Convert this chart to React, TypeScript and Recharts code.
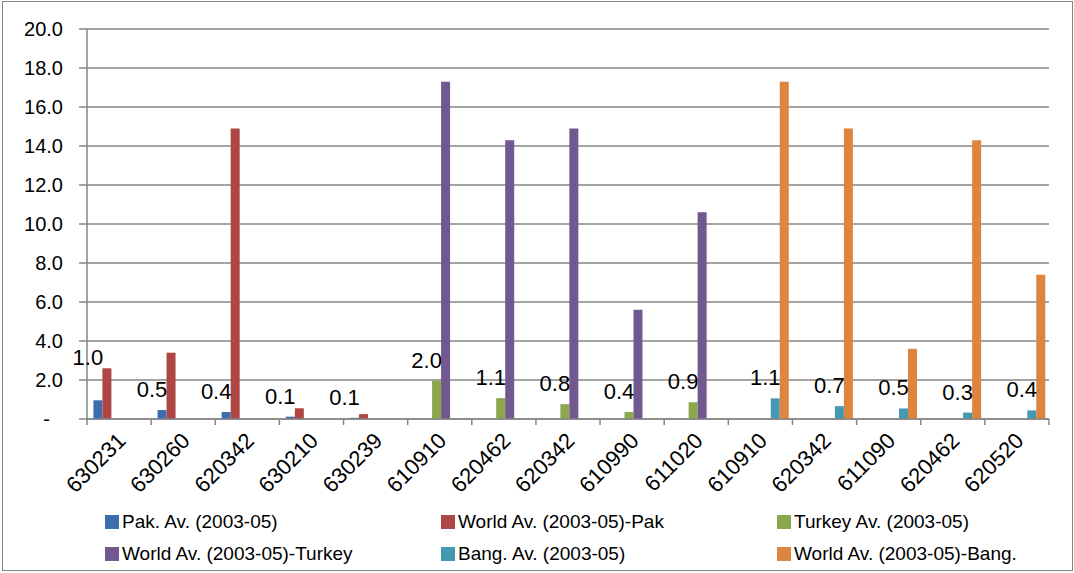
import React from 'react';
import { BarChart, Bar, XAxis, YAxis, CartesianGrid, LabelList, Legend } from 'recharts';

const categories = ['630231', '630260', '620342', '630210', '630239', '610910', '620462', '620342', '610990', '611020', '610910', '620342', '611090', '620462', '620520'];

const pakAv = [0.96, 0.46, 0.36, 0.12, 0.06, null, null, null, null, null, null, null, null, null, null];
const worldPak = [2.6, 3.4, 14.9, 0.55, 0.25, null, null, null, null, null, null, null, null, null, null];
const turkeyAv = [null, null, null, null, null, 1.97, 1.07, 0.76, 0.36, 0.86, null, null, null, null, null];
const worldTurkey = [null, null, null, null, null, 17.3, 14.3, 14.9, 5.6, 10.6, null, null, null, null, null];
const bangAv = [null, null, null, null, null, null, null, null, null, null, 1.06, 0.66, 0.54, 0.33, 0.44];
const worldBang = [null, null, null, null, null, null, null, null, null, null, 17.3, 14.9, 3.6, 14.3, 7.4];

const yTicks = [0, 2, 4, 6, 8, 10, 12, 14, 16, 18, 20];

const series = [
  { key: 'pak', name: 'Pak. Av. (2003-05)', color: '#3e6dad', values: pakAv, labelled: true },
  { key: 'wpak', name: 'World Av. (2003-05)-Pak', color: '#ae4646', values: worldPak, labelled: false },
  { key: 'tur', name: 'Turkey Av. (2003-05)', color: '#8ba84e', values: turkeyAv, labelled: true },
  { key: 'wtur', name: 'World Av. (2003-05)-Turkey', color: '#71588f', values: worldTurkey, labelled: false },
  { key: 'bang', name: 'Bang. Av. (2003-05)', color: '#4299b1', values: bangAv, labelled: true },
  { key: 'wbang', name: 'World Av. (2003-05)-Bang.', color: '#dd843f', values: worldBang, labelled: false },
];

const data = categories.map((c, i) => {
  const row: any = { name: c };
  series.forEach((s) => { row[s.key] = s.values[i]; });
  return row;
});

const FONT = '"Liberation Sans", Arial, sans-serif';
const GREY = '#868686';

const XTick = (props: any) => {
  const { x, y, payload, index, visibleTicksCount } = props;
  const half = payload.offset ?? 0;
  const px = x + 8;
  const py = y + 17;
  return (
    <g>
      <line x1={x - half} x2={x - half} y1={y - 6} y2={y} stroke={GREY} strokeWidth={1.5} />
      {index === visibleTicksCount - 1 && (
        <line x1={x + half} x2={x + half} y1={y - 6} y2={y} stroke={GREY} strokeWidth={1.5} />
      )}
      <text x={px} y={py} transform={`rotate(-45, ${px}, ${py})`} textAnchor="end" fontSize={22} fontFamily={FONT} fill="#000">
        {payload.value}
      </text>
    </g>
  );
};

const YTick = (props: any) => {
  const { x, y, payload } = props;
  const zero = payload.value === 0;
  return (
    <text x={zero ? x - 13 : x} y={y} dy={7} textAnchor="end" fontSize={20} fontFamily={FONT} fill="#000">
      {zero ? '-' : payload.value.toFixed(1)}
    </text>
  );
};

const ValueLabel = (props: any) => {
  const { x, y, width, value, index, seriesKey } = props;
  if (value == null) return null;
  // the very first label sits above the neighbouring taller bar in the source
  const lift = seriesKey === 'pak' && index === 0 ? 43 : 21;
  return (
    <text x={x + width / 2 - 10} y={y - lift} dy={8} textAnchor="middle" fontSize={22} fontFamily={FONT} fill="#000">
      {value.toFixed(1)}
    </text>
  );
};

const LegendBox = () => (
  <div style={{ display: 'grid', gridTemplateColumns: '336px 336px 336px', rowGap: 10, paddingLeft: 105, paddingTop: 6, fontFamily: FONT, fontSize: 19 }}>
    {series.map((s) => (
      <div key={s.key} style={{ display: 'flex', alignItems: 'center', height: 22 }}>
        <span style={{ display: 'inline-block', width: 14, height: 14, background: s.color, marginRight: 3 }} />
        <span style={{ color: '#000' }}>{s.name}</span>
      </div>
    ))}
  </div>
);

export default function App() {
  return (
    <div style={{ position: 'absolute', left: 0, top: 0, width: 1074, height: 573, background: '#fff' }}>
      <div style={{ position: 'absolute', left: 2, top: 1, width: 1069, height: 568, border: `1.5px solid ${GREY}` }} />
      <BarChart width={1074} height={573} data={data} margin={{ top: 29, right: 25, left: 0, bottom: 8 }} barCategoryGap="10%" barGap={0}>
        <CartesianGrid vertical={false} stroke={GREY} strokeWidth={1.5} />
        <XAxis dataKey="name" height={86} interval={0} tickLine={false} tickSize={6} tickMargin={0} tick={<XTick />} axisLine={{ stroke: GREY, strokeWidth: 1.5 }} />
        <YAxis width={87} domain={[0, 20]} ticks={yTicks} interval={0} tickSize={8} tickMargin={16} tick={<YTick />} tickLine={{ stroke: GREY, strokeWidth: 1.5 }} axisLine={{ stroke: GREY, strokeWidth: 1.5 }} />
        <Legend verticalAlign="bottom" content={<LegendBox />} />
        {series.map((s) => (
          <Bar key={s.key} dataKey={s.key} name={s.name} fill={s.color} isAnimationActive={false}>
            {s.labelled && <LabelList dataKey={s.key} content={(p: any) => <ValueLabel {...p} seriesKey={s.key} />} />}
          </Bar>
        ))}
      </BarChart>
    </div>
  );
}
